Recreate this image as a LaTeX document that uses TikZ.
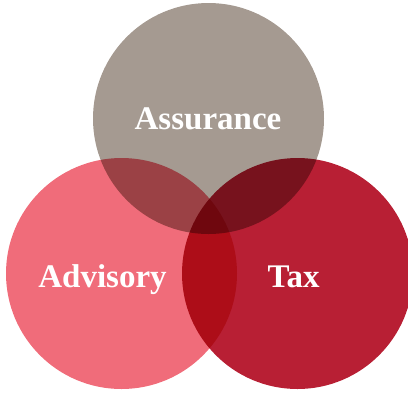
\documentclass[tikz,border=0pt]{standalone}
\usepackage{fontspec}
\setmainfont{Liberation Serif}
\definecolor{assurancecol}{RGB}{165,154,145}
\definecolor{advisorycol}{RGB}{240,108,122}
\definecolor{taxcol}{RGB}{184,31,52}
\tikzset{
  venn/.style={circle, minimum size=231pt, inner sep=0pt, draw=none},
  lbl/.style={text=white, font=\bfseries\fontsize{33}{36}\selectfont, anchor=base, inner sep=0pt}
}
\begin{document}
\begin{tikzpicture}[x=1pt, y=-1pt]
\useasboundingbox (0,0) rectangle (408,392);
\clip (0,0) rectangle (408,392);
\begin{scope}[blend mode=multiply]
  \node[venn, fill=assurancecol] (assurance) at (208.5,118.5) {};
  \node[venn, fill=advisorycol] (advisory) at (121.5,273.5) {};
  \node[venn, fill=taxcol] (tax) at (297.5,273.5) {};
\end{scope}
\node[lbl] (tA) at (208,129) {Assurance};
\node[lbl] (tB) at (102.5,287) {Advisory};
\node[lbl] (tC) at (293.5,287) {Tax};
\end{tikzpicture}
\end{document}
